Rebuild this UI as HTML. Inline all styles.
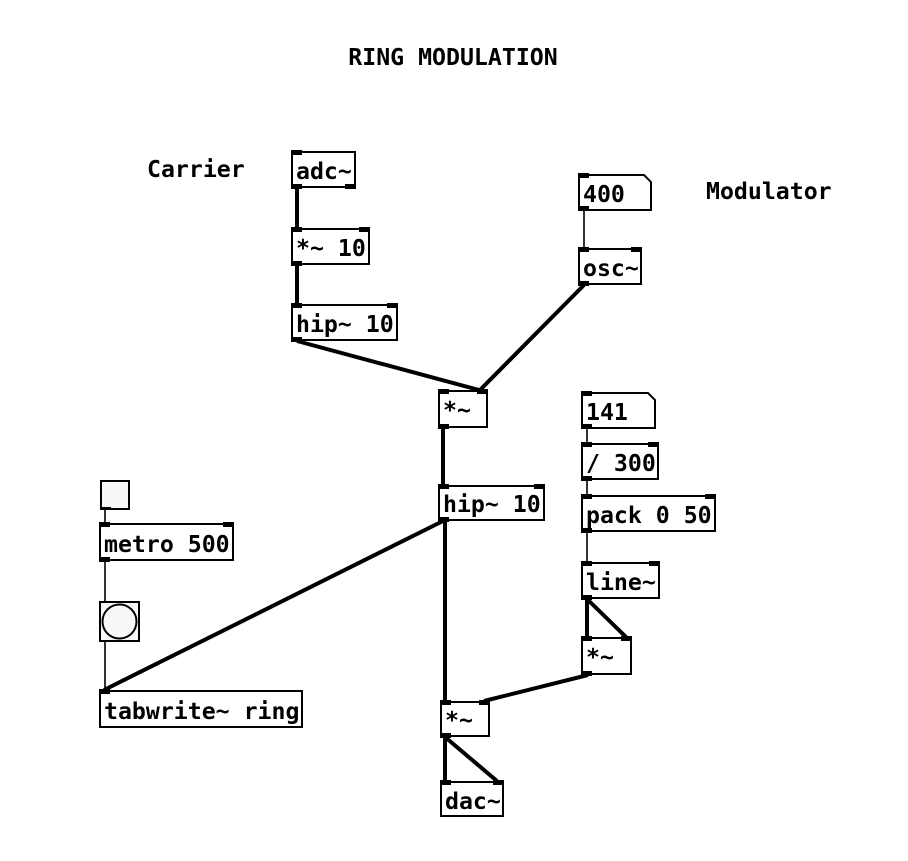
<!DOCTYPE html>
<html><head><meta charset="utf-8"><style>
html,body{margin:0;padding:0;background:#fff;}
svg text{font-family:"DejaVu Sans Mono","Liberation Mono",monospace;font-weight:bold;font-size:23.2px;fill:#000;}
</style></head><body>
<svg width="908" height="856" viewBox="0 0 908 856" xmlns="http://www.w3.org/2000/svg">
<g stroke="#000" fill="none" stroke-linecap="butt">
<g stroke-width="4">
<line x1="297" y1="188" x2="297" y2="228"/>
<line x1="297" y1="265" x2="297" y2="304"/>
<line x1="297" y1="341" x2="479" y2="390"/>
<line x1="584" y1="285" x2="480" y2="390"/>
<line x1="443" y1="428" x2="443" y2="485"/>
<line x1="443" y1="521" x2="104" y2="690"/>
<line x1="445" y1="521" x2="445" y2="701"/>
<line x1="588" y1="675" x2="484" y2="701"/>
<line x1="587" y1="599" x2="587" y2="637"/>
<line x1="587" y1="599" x2="626" y2="637"/>
<line x1="445" y1="737" x2="445" y2="781"/>
<line x1="445" y1="737" x2="497" y2="781"/>
</g>
<g stroke-width="1.6">
<line x1="584" y1="210" x2="584" y2="248"/>
<line x1="587" y1="428" x2="587" y2="443"/>
<line x1="587" y1="480" x2="587" y2="495"/>
<line x1="587" y1="532" x2="587" y2="562"/>
<line x1="105" y1="510" x2="105" y2="523"/>
<line x1="105" y1="561" x2="105" y2="601"/>
<line x1="105" y1="642" x2="105" y2="690"/>
</g>
<g stroke-width="2" fill="#fff">
<rect x="292" y="152" width="63" height="35"/>
<rect x="292" y="229" width="77" height="35"/>
<rect x="292" y="305" width="105" height="35"/>
<path d="M579 175 H644 L651 182 V210 H579 Z"/>
<rect x="579" y="249" width="62" height="35"/>
<rect x="439" y="391" width="48" height="36"/>
<path d="M582 393 H648 L655 400 V428 H582 Z"/>
<rect x="582" y="444" width="76" height="35"/>
<rect x="582" y="496" width="133" height="35"/>
<rect x="582" y="563" width="77" height="35"/>
<rect x="582" y="638" width="49" height="36"/>
<rect x="101" y="481" width="28" height="28" fill="#f8f8f8"/>
<rect x="100" y="524" width="133" height="36"/>
<rect x="100" y="602" width="39" height="39" fill="#f8f8f8"/>
<circle cx="119.5" cy="621.5" r="17" fill="#f8f8f8"/>
<rect x="100" y="691" width="202" height="36"/>
<rect x="439" y="486" width="105" height="34"/>
<rect x="441" y="702" width="48" height="34"/>
<rect x="441" y="782" width="62" height="34"/>
</g>
</g>
<g fill="#000">
<rect x="291" y="150" width="11" height="5"/><rect x="291" y="184" width="11" height="5"/><rect x="345" y="184" width="11" height="5"/>
<rect x="291" y="227" width="11" height="5"/><rect x="359" y="227" width="11" height="5"/><rect x="291" y="261" width="11" height="5"/>
<rect x="291" y="303" width="11" height="5"/><rect x="387" y="303" width="11" height="5"/><rect x="291" y="337" width="11" height="5"/>
<rect x="578" y="173" width="11" height="5"/><rect x="578" y="206" width="11" height="5"/>
<rect x="578" y="247" width="11" height="5"/><rect x="631" y="247" width="11" height="5"/><rect x="578" y="281" width="11" height="5"/>
<rect x="438" y="389" width="11" height="5"/><rect x="477" y="389" width="11" height="5"/><rect x="438" y="424" width="11" height="5"/>
<rect x="581" y="391" width="11" height="5"/><rect x="581" y="424" width="11" height="5"/>
<rect x="581" y="442" width="11" height="5"/><rect x="648" y="442" width="11" height="5"/><rect x="581" y="476" width="11" height="5"/>
<rect x="581" y="494" width="11" height="5"/><rect x="705" y="494" width="11" height="5"/><rect x="581" y="528" width="11" height="5"/>
<rect x="581" y="561" width="11" height="5"/><rect x="649" y="561" width="11" height="5"/><rect x="581" y="595" width="11" height="5"/>
<rect x="581" y="636" width="11" height="5"/><rect x="621" y="636" width="11" height="5"/><rect x="581" y="671" width="11" height="5"/>
<rect x="100" y="507" width="11" height="3"/>
<rect x="99" y="522" width="11" height="5"/><rect x="223" y="522" width="11" height="5"/><rect x="99" y="557" width="11" height="5"/>
<rect x="99" y="689" width="11" height="5"/>
<rect x="438" y="484" width="11" height="5"/><rect x="534" y="484" width="11" height="5"/><rect x="438" y="517" width="11" height="5"/>
<rect x="440" y="700" width="11" height="5"/><rect x="479" y="700" width="11" height="5"/><rect x="440" y="733" width="11" height="5"/>
<rect x="440" y="780" width="11" height="5"/><rect x="493" y="780" width="11" height="5"/>
</g>
<g>
<text x="453" y="65" text-anchor="middle">RING MODULATION</text>
<text x="147" y="177">Carrier</text>
<text x="706" y="199">Modulator</text>
<text x="296" y="179">adc~</text>
<text x="296" y="256">*~ 10</text>
<text x="296" y="332">hip~ 10</text>
<text x="583" y="202">400</text>
<text x="583" y="276">osc~</text>
<text x="443" y="418">*~</text>
<text x="586" y="420">141</text>
<text x="586" y="471">/ 300</text>
<text x="586" y="523">pack 0 50</text>
<text x="586" y="590">line~</text>
<text x="586" y="665">*~</text>
<text x="104" y="552">metro 500</text>
<text x="104" y="719">tabwrite~ ring</text>
<text x="443" y="512">hip~ 10</text>
<text x="445" y="728">*~</text>
<text x="445" y="809">dac~</text>
</g>
</svg>
</body></html>
